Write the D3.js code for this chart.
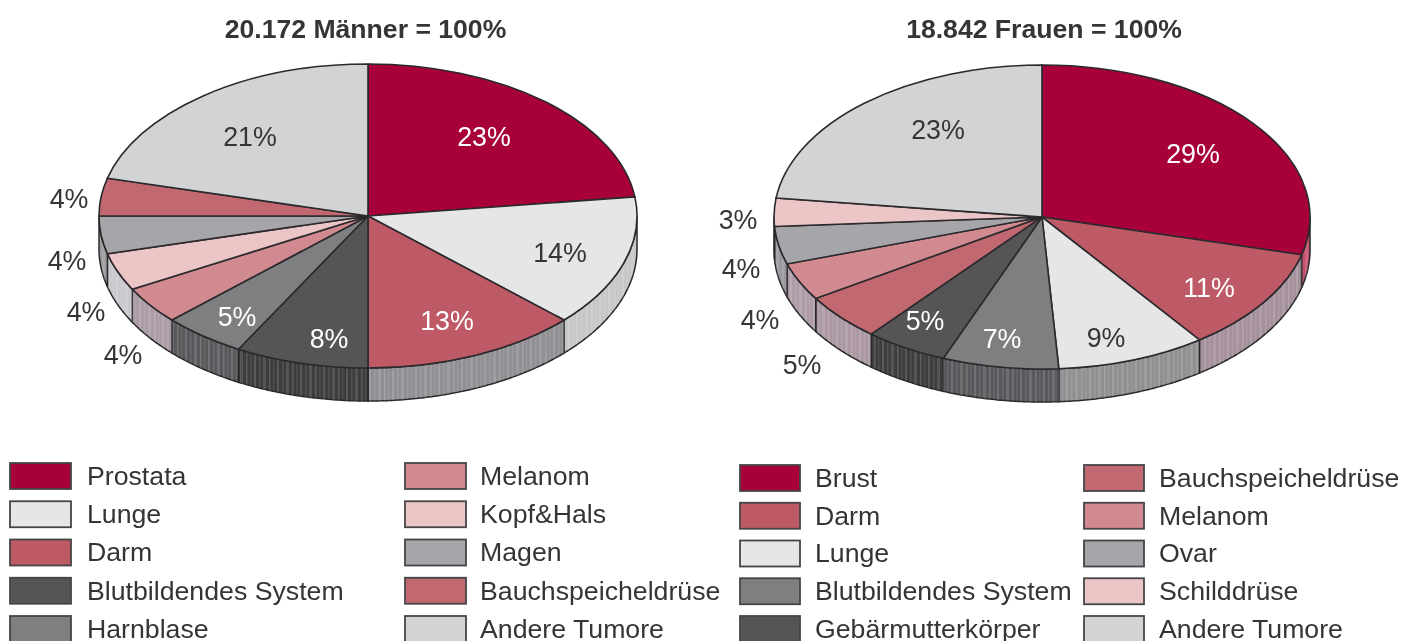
<!DOCTYPE html>
<html>
<head>
<meta charset="utf-8">
<script src="https://cdn.jsdelivr.net/npm/d3@7"></script>
<style>
  html, body { margin: 0; padding: 0; background: #fff; overflow: hidden; }
  svg { display: block; }
  text { font-family: "Liberation Sans", Arial, sans-serif; fill: #343436; }
</style>
</head>
<body>
<div id="chart"></div>
<script>
// pie data, clockwise from 12 o'clock
const menCategories = ["Prostata", "Lunge", "Darm", "Blutbildendes System", "Harnblase", "Melanom", "Kopf&Hals", "Magen", "Bauchspeicheldrüse", "Andere Tumore"]
const menValues = [23, 14, 13, 8, 5, 4, 4, 4, 4, 21]
const womenCategories = ["Brust", "Darm", "Lunge", "Blutbildendes System", "Gebärmutterkörper", "Bauchspeicheldrüse", "Melanom", "Ovar", "Schilddrüse", "Andere Tumore"]
const womenValues = [29, 11, 9, 7, 5, 5, 4, 4, 3, 23]

// legend order is not the same as pie order on the women's side
const menLegend = [
    ["Prostata", "Lunge", "Darm", "Blutbildendes System", "Harnblase"],
    ["Melanom", "Kopf&Hals", "Magen", "Bauchspeicheldrüse", "Andere Tumore"]
]
const womenLegend = [
    ["Brust", "Darm", "Lunge", "Blutbildendes System", "Gebärmutterkörper"],
    ["Bauchspeicheldrüse", "Melanom", "Ovar", "Schilddrüse", "Andere Tumore"]
]

const menColors = ["#a8003a", "#e6e6e6", "#bd5a66", "#555557", "#7e7f81", "#d08a90", "#ecc6c6", "#a6a6aa", "#c26871", "#d2d3d5"]
const womenColors = ["#a8003a", "#bd5a66", "#e6e6e6", "#7e7f81", "#555557", "#c26871", "#d08a90", "#a6a6aa", "#ecc6c6", "#d2d3d5"]
const menWalls = ["#a8003a", "#c6c7c9", "#918f93", "#3e3c3e", "#5a595b", "#ab9ca5", "#cbc8ce", "#9a9a9e", "#a8606a", "#aaa"]
const womenWalls = ["#c4506c", "#a5919b", "#909092", "#5a595b", "#3f3d3f", "#ab98a2", "#ad9ca8", "#9a9a9e", "#cbb", "#aaa"]

// label anchors, same order as the values
const menLabelPos = [[484, 136], [560, 252], [447, 320], [329, 338], [237, 316], [123, 354], [86, 311], [67, 260], [69, 198], [250, 136]]
const womenLabelPos = [[1193, 153], [1209, 287], [1106, 337], [1002, 338], [925, 320], [802, 364], [760, 319], [741, 268], [738, 219], [938, 129]]
const menLabelColors = ["#fff", "#343436", "#fff", "#fff", "#fff", "#343436", "#343436", "#343436", "#343436", "#343436"]
const womenLabelColors = ["#fff", "#fff", "#343436", "#fff", "#fff", "#343436", "#343436", "#343436", "#343436", "#343436"]

const width = 1419
const height = 641

const svg = d3.select("#chart").append("svg")
    .attr("width", width)
    .attr("height", height)
const defs = svg.append("defs")

// the reference is a soft scan
defs.append("filter").attr("id", "soft")
    .attr("filterUnits", "userSpaceOnUse")
    .attr("x", 0).attr("y", 0).attr("width", width).attr("height", height)
    .append("feGaussianBlur").attr("stdDeviation", 0.6)

// vertical shading bands on the pie rims
const stripe = defs.append("pattern")
    .attr("id", "rimStripes")
    .attr("patternUnits", "userSpaceOnUse")
    .attr("width", 23)
    .attr("height", 10)
const stripeBands = [[1, 2, 0.14], [6, 1.5, 0.1], [10, 3, 0.12], [16, 1.5, 0.16], [20, 1.5, 0.08]]
stripe.selectAll("rect").data(stripeBands).enter().append("rect")
    .attr("x", d => d[0])
    .attr("width", d => d[1])
    .attr("height", 10)
    .attr("fill", "#fff")
    .attr("opacity", d => d[2])

const root = svg.append("g").attr("filter", "url(#soft)")

function drawPie(opts) {
    const rx = opts.rx
    const ry = 152
    const depth = 33
    const g = root.append("g").attr("transform", "translate(" + opts.cx + "," + opts.cy + ")")

    const pie = d3.pie().sort(null).value(d => d)
    const slices = pie(opts.values)
    const color = d3.scaleOrdinal().domain(opts.categories).range(opts.colors)

    // rim first, only the part of the turn that faces the viewer
    const rimX = d3.scaleLinear().domain([0, 1]).range([0, rx])
    const rimY = d3.scaleLinear().domain([0, 1]).range([0, ry])
    const rimArea = d3.area()
        .x(a => rimX(Math.sin(a)))
        .y0(a => rimY(-Math.cos(a)))
        .y1(a => rimY(-Math.cos(a)) + depth)

    function rimPath(d) {
        const a0 = Math.max(d.startAngle, Math.PI / 2)
        const a1 = Math.min(d.endAngle, Math.PI * 1.5)
        if (a1 <= a0) return null
        const n = Math.ceil((a1 - a0) / 0.01)
        return rimArea(d3.range(n + 1).map(i => a0 + (a1 - a0) * i / n))
    }

    const rims = slices.filter(d => rimPath(d) !== null)
    g.selectAll(".rim").data(rims).enter().append("path")
        .attr("class", "rim")
        .attr("d", rimPath)
        .attr("fill", d => opts.walls[d.index])
        .attr("stroke", "#262628")
        .attr("stroke-width", 1.5)
    g.selectAll(".rim-stripe").data(rims).enter().append("path")
        .attr("class", "rim-stripe")
        .attr("d", rimPath)
        .attr("fill", "url(#rimStripes)")

    // top face: unit arc squashed into the ellipse
    const arc = d3.arc().innerRadius(0).outerRadius(100)
    g.append("g")
        .attr("transform", "scale(" + (rx / 100) + "," + (ry / 100) + ")")
        .selectAll(".slice").data(slices).enter().append("path")
        .attr("class", "slice")
        .attr("d", arc)
        .attr("fill", d => color(opts.categories[d.index]))
        .attr("stroke", "#2b2b2d")
        .attr("stroke-width", 1.6)
        .attr("vector-effect", "non-scaling-stroke")

    root.selectAll(null).data(opts.values).enter().append("text")
        .attr("x", (d, i) => opts.labelPos[i][0])
        .attr("y", (d, i) => opts.labelPos[i][1])
        .attr("dy", "0.38em")
        .attr("text-anchor", "middle")
        .attr("font-size", 26.8)
        .style("fill", (d, i) => opts.labelColors[i])
        .text(d => d + "%")

    root.append("text")
        .attr("x", opts.titleX)
        .attr("y", 28)
        .attr("dy", "0.36em")
        .attr("text-anchor", "middle")
        .attr("font-size", 26.6)
        .attr("font-weight", "bold")
        .text(opts.title)
}

function drawLegend(columns, colorOf, swatchX, textX, swatchW, rows) {
    const y = d3.scalePoint().domain(d3.range(5)).range(rows)
    columns.forEach(function (names, c) {
        const g = root.append("g")
        g.selectAll("rect").data(names).enter().append("rect")
            .attr("x", swatchX[c])
            .attr("y", (d, i) => y(i) - 13)
            .attr("width", swatchW)
            .attr("height", 26)
            .attr("fill", d => colorOf(d))
            .attr("stroke", "#454547")
            .attr("stroke-width", 1.8)
        g.selectAll("text").data(names).enter().append("text")
            .attr("x", textX[c])
            .attr("y", (d, i) => y(i))
            .attr("dy", "0.33em")
            .attr("font-size", 26.7)
            .text(d => d)
    })
}

drawPie({
    cx: 368, cy: 216, rx: 269,
    categories: menCategories, values: menValues, colors: menColors, walls: menWalls,
    labelPos: menLabelPos, labelColors: menLabelColors,
    title: "20.172 Männer = 100%", titleX: 365.5
})
drawPie({
    cx: 1042, cy: 217, rx: 268,
    categories: womenCategories, values: womenValues, colors: womenColors, walls: womenWalls,
    labelPos: womenLabelPos, labelColors: womenLabelColors,
    title: "18.842 Frauen = 100%", titleX: 1044
})

const menColor = d3.scaleOrdinal().domain(menCategories).range(menColors)
const womenColor = d3.scaleOrdinal().domain(womenCategories).range(womenColors)
drawLegend(menLegend, menColor, [10, 405], [87, 480], 61, [476, 629])
drawLegend(womenLegend, womenColor, [740, 1084], [815, 1159], 60, [478, 629])
</script>
</body>
</html>
